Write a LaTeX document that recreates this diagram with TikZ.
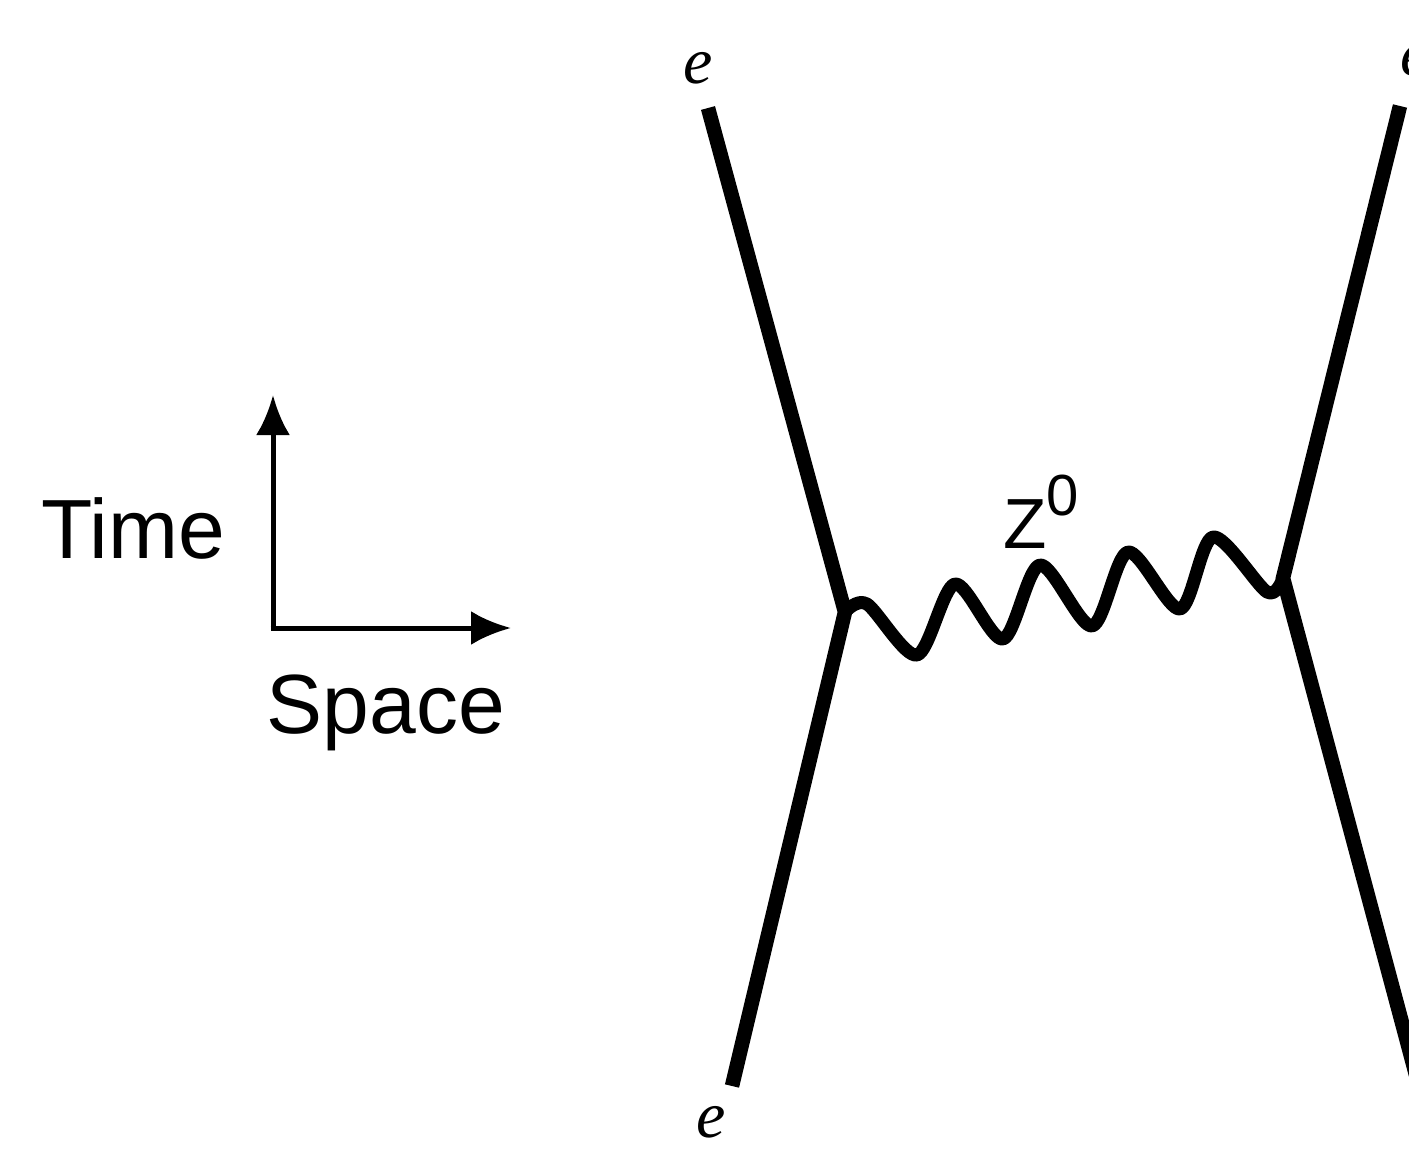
\documentclass[tikz,border=0pt]{standalone}
\usepackage{fontspec}
\setmainfont{Liberation Serif}
\setsansfont{Liberation Sans}
\usetikzlibrary{arrows.meta}
\begin{document}
\begin{tikzpicture}[x=1pt,y=-1pt,
  fermion/.style={line width=14.5pt,line cap=butt,line join=miter},
  boson/.style={line width=13pt,line join=round,line cap=round},
  axis/.style={line width=5pt,-{Latex[length=40pt,width=34pt]}},
  axlabel/.style={font=\sffamily\fontsize{84}{90}\selectfont,inner sep=0pt},
  elabel/.style={font=\itshape\fontsize{66}{70}\selectfont,inner sep=0pt},
  zlabel/.style={font=\sffamily\fontsize{71}{75}\selectfont,inner sep=0pt}]
\useasboundingbox (0,0) rectangle (1409,1151);
\fill[white] (0,0) rectangle (1409,1151);
\clip (0,0) rectangle (1409,1151);
% axes
\coordinate (origin) at (273,628);
\coordinate (tup) at (273,395);
\coordinate (tright) at (511,628);
\draw[axis] (origin.center) -- (tup);
\draw[axis] ([xshift=-2.5pt]origin.center) -- (tright);
\node[axlabel] (time) at (133,528) {Time};
\node[axlabel] (space) at (386,713) {Space};
% vertices and external ends
\coordinate (v1) at (845,612);
\coordinate (v2) at (1283,578);
\coordinate (a1) at (708,108);
\coordinate (b1) at (732,1086);
\coordinate (a2) at (1400,106);
\coordinate (b2) at (1420,1090);
\draw[fermion] (a1) -- (v1) -- (b1);
\draw[fermion] (a2) -- (v2) -- (b2);
% labels
\node[elabel] (e1) at (698,68) {e};
\node[elabel] (e2) at (711,1122) {e};
\node[elabel] (e3) at (1415,60) {e};
\node[zlabel,anchor=base west] (z) at (1003,548) {Z\raisebox{33pt}{\fontsize{58}{60}\selectfont 0}};
% Z0 wave
\coordinate (p1) at (867,604);
\coordinate (t1) at (917,655);
\coordinate (p2) at (955,584);
\coordinate (t2) at (1003,639);
\coordinate (p3) at (1040,565);
\coordinate (t3) at (1092,626);
\coordinate (p4) at (1128,552);
\coordinate (t4) at (1180,609);
\coordinate (p5) at (1213,537);
\coordinate (t5) at (1267,592);
\draw[boson] plot[smooth,tension=0.5] coordinates {(v1) (p1) (t1) (p2) (t2) (p3) (t3) (p4) (t4) (p5) (t5) (v2)};
\end{tikzpicture}
\end{document}
